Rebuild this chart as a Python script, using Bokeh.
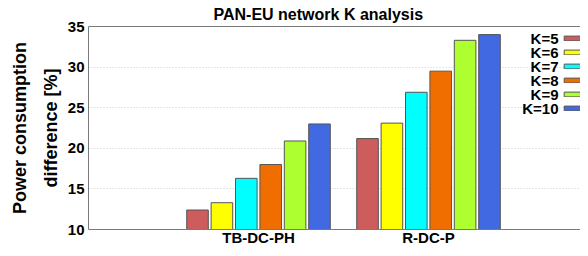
from bokeh.plotting import figure
from bokeh.models import (Range1d, FixedTicker, LinearAxis, Legend, LegendItem, Label)
from bokeh.embed import file_html
from bokeh.resources import INLINE

categories = ["TB-DC-PH", "R-DC-P"]
k_labels = ["K=5", "K=6", "K=7", "K=8", "K=9", "K=10"]
k5 = [12.4, 21.2]
k6 = [13.3, 23.1]
k7 = [16.3, 26.9]
k8 = [18.0, 29.5]
k9 = [20.9, 33.3]
k10 = [23.0, 34.0]
series = [k5, k6, k7, k8, k9, k10]
colors = ["#CD5C5C", "#FFFF00", "#00FFFF", "#F06E00", "#ADFF2F", "#4169E1"]
y_ticks = [10, 15, 20, 25, 30, 35]

FONT = "Liberation Sans"
AXC = "#7a7a7a"

p = figure(width=580, height=248, output_backend="svg", toolbar_location=None,
           x_range=Range1d(0, 2.894), y_range=Range1d(10, 35),
           min_border_left=88, min_border_right=0, min_border_top=0,
           min_border_bottom=0)
p.outline_line_color = None
p.background_fill_color = "white"
p.border_fill_color = "white"

p.title.text = "PAN-EU network K analysis"
p.title.text_font = FONT
p.title.text_font_size = "16px"
p.title.text_font_style = "bold"
p.title.text_color = "black"
p.title.align = "left"
p.title.offset = 125
p.title.standoff = 7

group_x = [i + 1 for i in range(len(categories))]
pitch = 0.1435
bw = 0.127
renderers = []
for j, (vals, c) in enumerate(zip(series, colors)):
    xs = [g + (j - 2.5) * pitch for g in group_x]
    r = p.vbar(x=xs, top=vals, bottom=10, width=bw, fill_color=c,
               line_color="#555555", line_width=1)
    renderers.append(r)

# x axis
xa = p.xaxis[0]
xa.ticker = FixedTicker(ticks=group_x)
xa.major_label_overrides = {g: c for g, c in zip(group_x, categories)}
xa.major_label_text_font = FONT
xa.major_label_text_font_size = "15px"
xa.major_label_text_font_style = "bold"
xa.major_label_text_color = "black"
xa.major_tick_in = 0
xa.major_tick_out = 0
xa.minor_tick_line_color = None
xa.axis_line_color = AXC
xa.major_label_standoff = -1

# y axis
ya = p.yaxis[0]
ya.ticker = FixedTicker(ticks=y_ticks)
ya.major_label_text_font = FONT
ya.major_label_text_font_size = "15px"
ya.major_label_text_font_style = "bold"
ya.major_label_text_color = "black"
ya.major_tick_in = 0
ya.major_tick_out = 0
ya.minor_tick_line_color = None
ya.axis_line_color = AXC
ya.major_label_standoff = 4
ya.axis_label = "Power consumption\ndifference [%]"
ya.axis_label_text_font = FONT
ya.axis_label_text_font_size = "18px"
ya.axis_label_text_font_style = "bold"
ya.axis_label_text_color = "black"
ya.axis_label_text_line_height = 1.55
ya.axis_label_standoff = 4

# top border
top = LinearAxis(ticker=FixedTicker(ticks=[]), major_tick_in=0, major_tick_out=0,
                 minor_tick_in=0, minor_tick_out=0, major_label_text_font_size="0px",
                 major_label_standoff=0, axis_line_color=AXC)
p.add_layout(top, "above")

p.xgrid.grid_line_color = None
p.ygrid.ticker = FixedTicker(ticks=y_ticks[1:-1])
p.ygrid.grid_line_color = "#cfcfcf"
p.ygrid.grid_line_dash = "1 2"

# legend: swatches via Legend (blank labels), texts right-aligned to their left
items = [LegendItem(label=" ", renderers=[r]) for r in renderers]
leg = Legend(items=items, location=(473, 114), glyph_width=27, glyph_height=6,
             label_standoff=0, padding=0, margin=0, spacing=0, label_height=14,
             label_width=1, border_line_color=None, background_fill_color=None,
             label_text_font_size="1px")
p.add_layout(leg)
for i, lab in enumerate(k_labels):
    p.add_layout(Label(x=470, y=191 - 14 * i, x_units="screen", y_units="screen",
                       text=lab, text_align="right", text_baseline="middle",
                       text_font=FONT, text_font_size="15px",
                       text_font_style="bold", text_color="black"))

open("out.html", "w").write(file_html(p, INLINE))
